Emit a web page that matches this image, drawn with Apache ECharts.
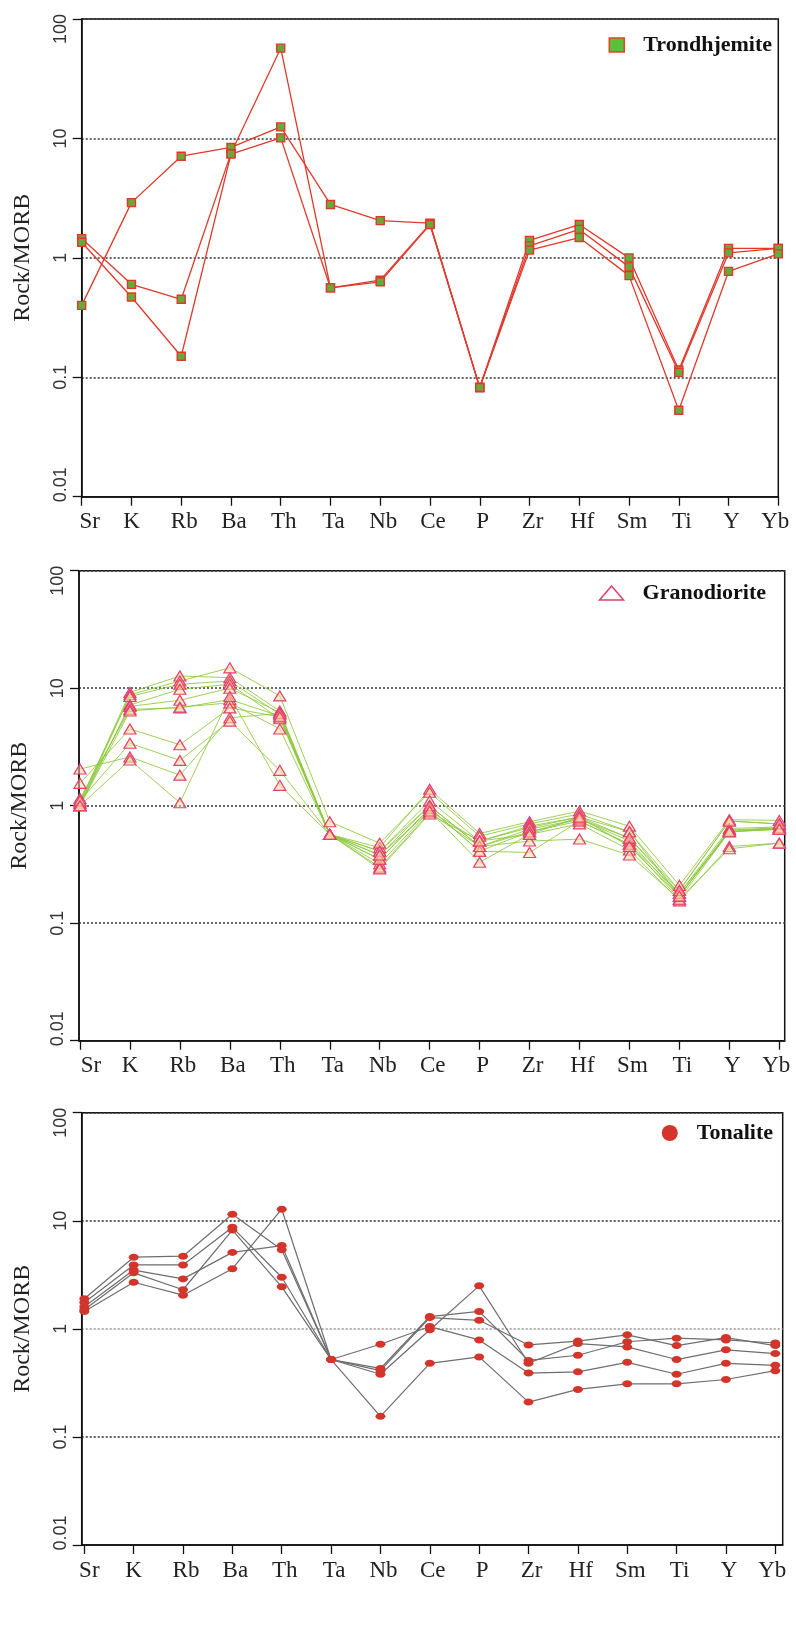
<!DOCTYPE html>
<html><head><meta charset="utf-8">
<script src="https://cdn.jsdelivr.net/npm/echarts@6/dist/echarts.min.js"></script>
<style>html,body{margin:0;padding:0;background:#fff}#c{width:796px;height:1633px}</style>
</head><body><div id="c"></div>
<script>
// ---- data ----
const elements = ['Sr','K','Rb','Ba','Th','Ta','Nb','Ce','P','Zr','Hf','Sm','Ti','Y','Yb'];
const yTickLabels = ['0.01','0.1','1','10','100'];
const yAxisTitle = 'Rock/MORB';

// Trondhjemite (Rock/MORB)
const trondhjemite1 = [0.40, 2.9, 7.1, 8.4, 12.5, 2.8, 2.05, 1.95, 0.082, 1.40, 1.90, 1.00, 0.115, 1.20, 1.20];
const trondhjemite2 = [1.45, 0.60, 0.45, 7.5, 57, 0.56, 0.65, 1.92, 0.082, 1.26, 1.73, 0.84, 0.110, 1.10, 1.20];
const trondhjemite3 = [1.35, 0.47, 0.15, 7.4, 10.1, 0.56, 0.63, 1.90, 0.082, 1.16, 1.48, 0.71, 0.053, 0.77, 1.08];

// Granodiorite (Rock/MORB)
const granodiorite1  = [1.05, 9.2, 12.7, 12.3, 6.4, 0.57, 0.44, 1.38, 0.58, 0.73, 0.90, 0.67, 0.21, 0.76, 0.75];
const granodiorite2  = [1.00, 8.8, 11.5, 14.9, 8.6, 0.73, 0.48, 1.30, 0.55, 0.70, 0.85, 0.60, 0.19, 0.74, 0.70];
const granodiorite3  = [1.10, 8.5, 10.8, 11.5, 6.0, 0.57, 0.41, 1.10, 0.50, 0.67, 0.80, 0.53, 0.18, 0.64, 0.66];
const granodiorite4  = [1.00, 7.2, 9.8, 10.8, 5.5, 0.57, 0.38, 1.00, 0.45, 0.63, 0.77, 0.50, 0.17, 0.62, 0.65];
const granodiorite5  = [1.05, 7.0, 7.9, 10.0, 6.2, 0.57, 0.35, 0.95, 0.41, 0.60, 0.74, 0.47, 0.16, 0.60, 0.63];
const granodiorite6  = [1.15, 6.6, 6.8, 8.0, 5.8, 0.57, 0.32, 0.90, 0.33, 0.57, 0.70, 0.42, 0.155, 0.45, 0.48];
const granodiorite7  = [2.05, 2.6, 1.82, 5.6, 6.1, 0.57, 0.30, 0.87, 0.45, 0.50, 0.52, 0.38, 0.16, 0.43, 0.48];
const granodiorite8  = [1.00, 6.4, 6.9, 7.5, 4.5, 0.57, 0.29, 0.85, 0.50, 0.65, 0.80, 0.60, 0.17, 0.62, 0.63];
const granodiorite9  = [1.55, 4.5, 3.3, 6.8, 5.7, 0.57, 0.35, 0.95, 0.41, 0.40, 0.74, 0.47, 0.18, 0.60, 0.65];
const granodiorite10 = [1.10, 3.4, 2.43, 5.25, 2.0, 0.57, 0.41, 1.00, 0.45, 0.60, 0.77, 0.53, 0.19, 0.74, 0.70];
const granodiorite11 = [1.00, 2.45, 1.06, 8.5, 1.49, 0.57, 0.38, 0.90, 0.50, 0.57, 0.80, 0.45, 0.17, 0.60, 0.63];

// Tonalite (Rock/MORB)
const tonalite1 = [1.90, 4.6, 4.7, 11.5, 5.4, 0.52, 0.43, 1.30, 1.45, 0.51, 0.57, 0.76, 0.82, 0.79, 0.74];
const tonalite2 = [1.75, 3.9, 3.9, 8.7, 3.0, 0.52, 0.41, 1.27, 1.20, 0.71, 0.77, 0.88, 0.70, 0.83, 0.70];
const tonalite3 = [1.60, 3.5, 2.9, 5.1, 5.9, 0.52, 0.72, 1.05, 0.79, 0.39, 0.40, 0.49, 0.38, 0.48, 0.46];
const tonalite4 = [1.50, 3.3, 2.3, 8.2, 2.45, 0.52, 0.38, 0.98, 2.50, 0.48, 0.73, 0.68, 0.52, 0.64, 0.59];
const tonalite5 = [1.45, 2.7, 2.05, 3.6, 12.8, 0.52, 0.155, 0.48, 0.55, 0.21, 0.275, 0.31, 0.31, 0.34, 0.41];

// ---- layout / style ----
const SERIF = 'Liberation Serif, Times New Roman, serif';
const SANS = 'Liberation Sans, Arial, sans-serif';

const panels = [
  {
    name: 'Trondhjemite', rows: [trondhjemite1, trondhjemite2, trondhjemite3],
    grid: {left: 81.7, top: 19, width: 696.6, height: 477.7},
    xMin: 0, xMax: 14, srPad: 16,
    gridColors: ['#333'],
    legend: {top: 29, right: 19, icon: 'rect', w: 15, h: 14,
             style: {color: '#5cbf3a', borderColor: '#e0452b', borderWidth: 1.5}},
    series: {symbol: 'rect', symbolSize: 8,
             lineStyle: {color: '#e0392c', width: 1.3},
             itemStyle: {color: '#6aa83a', borderColor: '#e0392c', borderWidth: 1.4}}
  },
  {
    name: 'Granodiorite', rows: [granodiorite1, granodiorite2, granodiorite3, granodiorite4, granodiorite5, granodiorite6,
                                 granodiorite7, granodiorite8, granodiorite9, granodiorite10, granodiorite11],
    grid: {left: 79, top: 570.7, width: 705.7, height: 470},
    xMin: -0.02, xMax: 14.108, srPad: 22,
    gridColors: ['#444'],
    legend: {top: 577, right: 25, icon: 'triangle', w: 24, h: 14,
             style: {color: '#ffffff', borderColor: '#e2406e', borderWidth: 1.5}},
    series: {symbol: 'triangle', symbolSize: [12, 10],
             lineStyle: {color: '#8cc83c', width: 1, opacity: 0.85},
             itemStyle: {color: 'rgba(255,214,160,0.55)', borderColor: '#e2406e', borderWidth: 1.2}}
  },
  {
    name: 'Tonalite', rows: [tonalite1, tonalite2, tonalite3, tonalite4, tonalite5],
    grid: {left: 81.7, top: 1112.7, width: 701, height: 432.3},
    xMin: -0.053, xMax: 14.15, srPad: 10,
    gridColors: ['#333', '#333', '#999', '#333', '#333'],
    legend: {top: 1117, right: 18, icon: 'circle', w: 16, h: 16,
             style: {color: '#d3352b', borderWidth: 0}},
    series: {symbol: 'circle', symbolSize: [10, 7],
             lineStyle: {color: '#6e6e6e', width: 1.2},
             itemStyle: {color: '#d3352b', borderWidth: 0}}
  }
];

const tickIdx = elements.map((_, i) => i);

const option = {
  animation: false,
  backgroundColor: '#fff',
  grid: [], xAxis: [], yAxis: [], legend: [], series: []
};

panels.forEach((p, k) => {
  option.grid.push(Object.assign({show: true, borderColor: '#111', borderWidth: 1.5, containLabel: false}, p.grid));
  option.xAxis.push({
    type: 'value', gridIndex: k, min: p.xMin, max: p.xMax,
    axisLine: {show: true, onZero: false, lineStyle: {color: '#111', width: 1.5}},
    axisTick: {show: true, customValues: tickIdx, length: 9, lineStyle: {color: '#111', width: 1.3}},
    splitLine: {show: false},
    axisLabel: {
      show: true, customValues: tickIdx, margin: 14,
      color: '#222', fontFamily: SERIF, fontSize: 23,
      formatter: v => {
        const i = Math.round(v);
        const key = i === 0 ? 'sr' : (i === 1 ? 'k' : (i === elements.length - 1 ? 'yb' : 'n'));
        return '{' + key + '|' + elements[i] + '}';
      },
      rich: {
        sr: {padding: [0, 0, 0, p.srPad], fontFamily: SERIF, fontSize: 23, color: '#222'},
        k: {fontFamily: SERIF, fontSize: 23, color: '#222'},
        n: {padding: [0, 0, 0, 6], fontFamily: SERIF, fontSize: 23, color: '#222'},
        yb: {padding: [0, 6, 0, 0], fontFamily: SERIF, fontSize: 23, color: '#222'}
      }
    }
  });
  option.yAxis.push({
    type: 'log', logBase: 10, gridIndex: k, min: 0.01, max: 100,
    name: yAxisTitle, nameLocation: 'middle', nameGap: 47,
    nameTextStyle: {fontFamily: SERIF, fontSize: 24, color: '#222'},
    axisLine: {show: true, onZero: false, lineStyle: {color: '#111', width: 1.5}},
    axisTick: {show: true, length: 9, lineStyle: {color: '#111', width: 1.3}},
    splitLine: {show: true, lineStyle: {color: p.gridColors, width: 1.6, type: [2, 2]}},
    axisLabel: {
      rotate: 90, margin: 12, color: '#333', fontFamily: SANS, fontSize: 18,
      formatter: v => {
        const i = Math.round(Math.log10(v)) + 2;
        const key = i === 4 ? 'top' : (i === 0 ? 'bot' : 'mid');
        return '{' + key + '|' + yTickLabels[i] + '}';
      },
      rich: {
        top: {padding: [0, 20, 0, 0], fontFamily: SANS, fontSize: 18, color: '#333'},
        bot: {padding: [0, 0, 0, 24], fontFamily: SANS, fontSize: 18, color: '#333'},
        mid: {fontFamily: SANS, fontSize: 18, color: '#333'}
      }
    }
  });
  option.legend.push({
    top: p.legend.top, right: p.legend.right, orient: 'horizontal', selectedMode: false,
    itemWidth: p.legend.w, itemHeight: p.legend.h,
    data: [{name: p.name, icon: p.legend.icon, itemStyle: p.legend.style}],
    textStyle: {fontFamily: SERIF, fontWeight: 'bold', fontSize: 22, color: '#111', padding: [0, 0, 0, 14]}
  });
  p.rows.forEach(row => {
    option.series.push({
      type: 'line', name: p.name, xAxisIndex: k, yAxisIndex: k,
      data: row.map((v, i) => [i, v]),
      symbol: p.series.symbol, symbolSize: p.series.symbolSize,
      lineStyle: p.series.lineStyle, itemStyle: p.series.itemStyle,
      emphasis: {disabled: true}, silent: true
    });
  });
});

const chart = echarts.init(document.getElementById('c'), null, {renderer: 'canvas'});
chart.setOption(option);
</script>
</body></html>
